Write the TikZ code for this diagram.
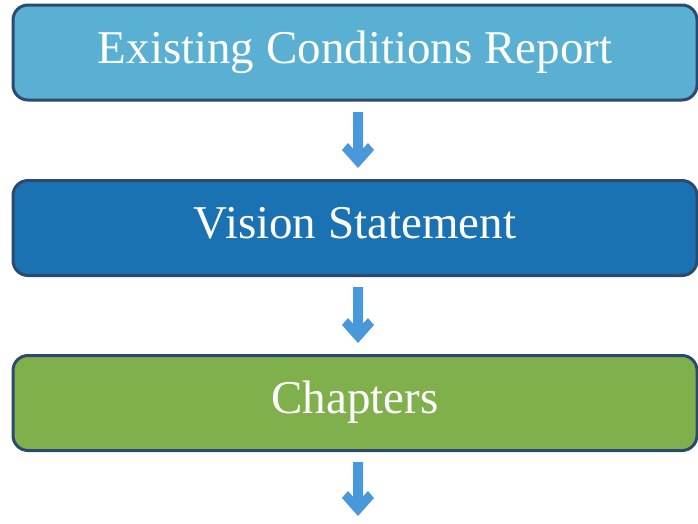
\documentclass[tikz,border=0pt]{standalone}
\usepackage{fontspec}
\setmainfont{Liberation Serif}
\definecolor{boxA}{HTML}{5AB0D2}
\definecolor{boxB}{HTML}{1A72B2}
\definecolor{boxC}{HTML}{80B04C}
\definecolor{rim}{HTML}{2C4A6E}
\definecolor{arr}{HTML}{4A98DC}
\begin{document}
\begin{tikzpicture}[x=1pt,y=-1pt,
  stagebox/.style={draw=rim, line width=3pt, rounded corners=15pt,
    minimum width=684pt, minimum height=95pt, inner sep=0pt,
    text height=31pt, text depth=10pt,
    text=white, font=\fontsize{47}{50}\selectfont}]
\useasboundingbox (0,0) rectangle (698,523);
\node[stagebox, fill=boxA] (ecr) at (355,52.5) {Existing Conditions Report};
\node[stagebox, fill=boxB] (vis) at (355,228) {Vision Statement};
\node[stagebox, fill=boxC] (chp) at (355,403) {Chapters};
\newcommand{\chevarrow}[2]{%
  \fill[arr] (358,#2) -- ++(-16,-18) -- ++(6,-7) -- ++(5,5.6) -- (353,#1)
    -- (363,#1) -- (363,#2-19.4) -- ++(5,-5.6) -- ++(6,7) -- cycle;}
\chevarrow{112}{168}
\chevarrow{287}{343}
\chevarrow{462}{516}
\end{tikzpicture}
\end{document}
